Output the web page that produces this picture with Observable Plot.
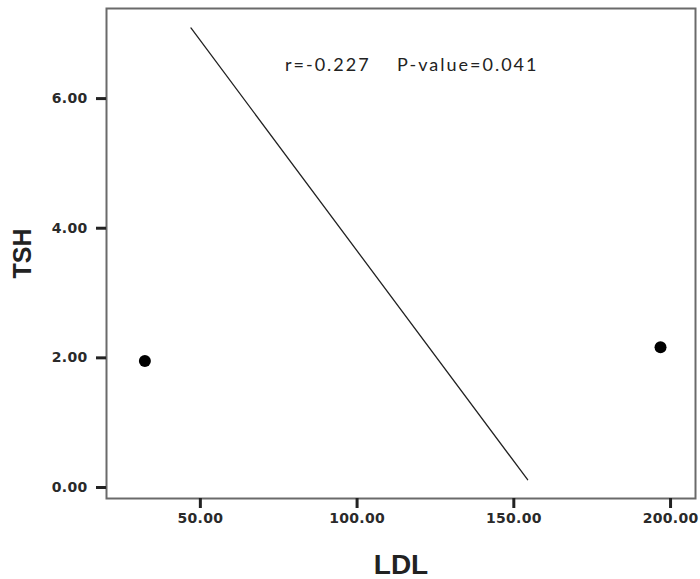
<!DOCTYPE html>
<html>
<head>
<meta charset="utf-8">
<script src="https://cdn.jsdelivr.net/npm/d3@7"></script>
<script src="https://cdn.jsdelivr.net/npm/@observablehq/plot@0.6"></script>
<style>
  html, body { margin: 0; padding: 0; background: #fff; }
  #chart svg { display: block; }
</style>
</head>
<body>
<div id="chart"></div>
<script>
// Observed points (LDL, TSH)
const ldl = [32.3, 196.8];
const tsh = [1.95, 2.165];
// Fitted regression line endpoints
const fitLDL = [47.0, 154.4];
const fitTSH = [7.09, 0.12];
// Tick values
const xTicks = [50, 100, 150, 200];
const yTicks = [0, 2, 4, 6];
// Annotation
const annotation = [{x: 77, y: 6.42, text: "r=-0.227\u00a0\u00a0\u00a0\u00a0P-value=0.041"}];

const points = ldl.map((d, i) => ({LDL: d, TSH: tsh[i]}));
const fit = fitLDL.map((d, i) => ({LDL: d, TSH: fitTSH[i]}));

const tickText = {fontFamily: "DejaVu Sans, sans-serif", fontWeight: "bold", fontSize: 14, fill: "#2a2a2a"};

const chart = Plot.plot({
  width: 700,
  height: 579,
  marginLeft: 106,
  marginRight: 5,
  marginTop: 8,
  marginBottom: 81,
  style: {background: "#fff", fontFamily: "Liberation Sans, Arial, sans-serif"},
  x: {domain: [20.06, 207.96]},
  y: {domain: [-0.17, 7.39]},
  marks: [
    Plot.frame({stroke: "#6a6a6a", strokeWidth: 2}),
    Plot.axisX(xTicks, {tickSize: 10, tickPadding: 5, tickFormat: d3.format(".2f"), stroke: "#222", strokeWidth: 3, label: null, ...tickText}),
    Plot.axisY(yTicks, {tickSize: 10, tickPadding: 9, tickFormat: d3.format(".2f"), stroke: "#222", strokeWidth: 3, label: null, ...tickText}),
    Plot.line(fit, {x: "LDL", y: "TSH", stroke: "#222", strokeWidth: 1.3}),
    Plot.dot(points, {x: "LDL", y: "TSH", r: 6, fill: "#000", stroke: "none"}),
    Plot.text(annotation, {x: "x", y: "y", text: "text", textAnchor: "start", lineAnchor: "bottom", fontFamily: "Lato, sans-serif", fontSize: 18, fill: "#222"}),
    Plot.text(["LDL"], {frameAnchor: "bottom", dy: 75, lineAnchor: "bottom", fontSize: 28, fontWeight: "bold", fill: "#222"}),
    Plot.text(["TSH"], {frameAnchor: "left", dx: -84, rotate: -90, textAnchor: "middle", lineAnchor: "middle", fontSize: 25, fontWeight: "bold", fill: "#222"})
  ]
});
chart.querySelectorAll("text").forEach(t => {
  const s = t.textContent;
  if (s.startsWith("r=")) t.style.letterSpacing = "2px";
  else if (/^\d+\.00$/.test(s)) {
    t.style.fontFamily = "DejaVu Sans, sans-serif";
    t.style.fontWeight = "bold";
    t.style.fontSize = "14px";
    t.style.letterSpacing = "0.3px";
    t.style.fill = "#2a2a2a";
    t.style.stroke = "none";
  }
});
document.getElementById("chart").appendChild(chart);
</script>
</body>
</html>
